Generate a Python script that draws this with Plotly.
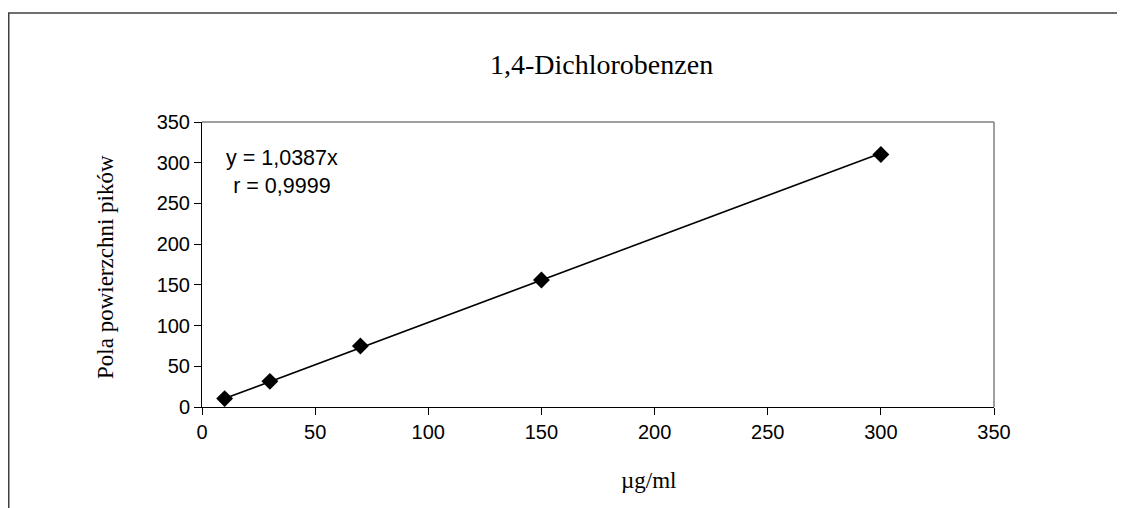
import plotly.graph_objects as go

# Data
conc = [10, 30, 70, 150, 300]          # µg/ml
area = [10.3, 31.5, 75, 156, 310]      # pole powierzchni piku
slope = 1.0387
r_value = "0,9999"
x_ticks = [0, 50, 100, 150, 200, 250, 300, 350]
y_ticks = [0, 50, 100, 150, 200, 250, 300, 350]

# page body offset in the browser
OFF = 8
W, H = 1125, 508
# plot area in screen pixels
SL, ST, SR, SB = 202, 122, 994, 407
L = SL - OFF
T = ST - OFF
R = W - (SR - OFF)
B = H - (SB - OFF)
pw, ph = W - L - R, H - T - B

def sx(px):  # screen px -> paper x
    return (px - OFF - L) / pw

def sy(py):  # screen px -> paper y
    return (H - B - (py - OFF)) / ph

fig = go.Figure()

tx = [min(conc), max(conc)]
ty = [slope * v for v in tx]
fig.add_trace(go.Scatter(x=tx, y=ty, mode="lines",
                         line=dict(color="black", width=1.6),
                         hoverinfo="skip", showlegend=False))
fig.add_trace(go.Scatter(x=conc, y=area, mode="markers",
                         marker=dict(symbol="diamond", size=13, color="black"),
                         showlegend=False))

axis_common = dict(
    showgrid=False, zeroline=False, showline=True,
    linecolor="black", linewidth=1, mirror=False,
    ticks="outside", ticklen=7, tickcolor="black", tickwidth=1,
    tickfont=dict(family="Liberation Sans, Arial", size=20, color="black"),
)

serif = "Liberation Serif, Times New Roman"

fig.update_layout(
    width=W, height=H,
    margin=dict(l=L, r=R, t=T, b=B),
    paper_bgcolor="white", plot_bgcolor="white",
    xaxis=dict(range=[0, 350], tickvals=x_ticks, **axis_common),
    yaxis=dict(range=[0, 350], tickvals=y_ticks, **axis_common),
)

# title and axis titles as positioned text
fig.add_annotation(text="1,4-Dichlorobenzen", xref="paper", yref="paper",
                   x=sx(601), y=sy(64), xanchor="center", yanchor="middle",
                   showarrow=False, font=dict(family=serif, size=28, color="black"))
fig.add_annotation(text="µg/ml", xref="paper", yref="paper",
                   x=sx(648), y=sy(480), xanchor="center", yanchor="middle",
                   showarrow=False, font=dict(family=serif, size=23, color="black"))
fig.add_annotation(text="Pola powierzchni pików", xref="paper", yref="paper",
                   x=sx(105), y=sy(267), xanchor="center", yanchor="middle",
                   textangle=-90, showarrow=False,
                   font=dict(family=serif, size=23, color="black"))

# top and right plot-area edges (gray)
fig.add_shape(type="line", xref="paper", yref="paper", x0=0, x1=1, y0=1, y1=1,
              line=dict(color="#808080", width=1.5))
fig.add_shape(type="line", xref="paper", yref="paper", x0=1, x1=1, y0=0, y1=1,
              line=dict(color="#808080", width=1.5))

# outer chart border
fig.add_shape(type="rect", xref="paper", yref="paper",
              x0=sx(OFF + 0.75), x1=sx(1124),
              y0=sy(530), y1=sy(13),
              line=dict(color="#404040", width=1.5), fillcolor="rgba(0,0,0,0)", layer="below")

fig.add_annotation(text=f"y = {str(slope).replace('.', ',')}x<br>r = {r_value}",
                   xref="paper", yref="paper",
                   x=sx(282), y=sy(172),
                   xanchor="center", yanchor="middle", showarrow=False, align="center",
                   font=dict(family="Liberation Sans, Arial", size=21.5, color="black"))

fig.write_html("out.html")
